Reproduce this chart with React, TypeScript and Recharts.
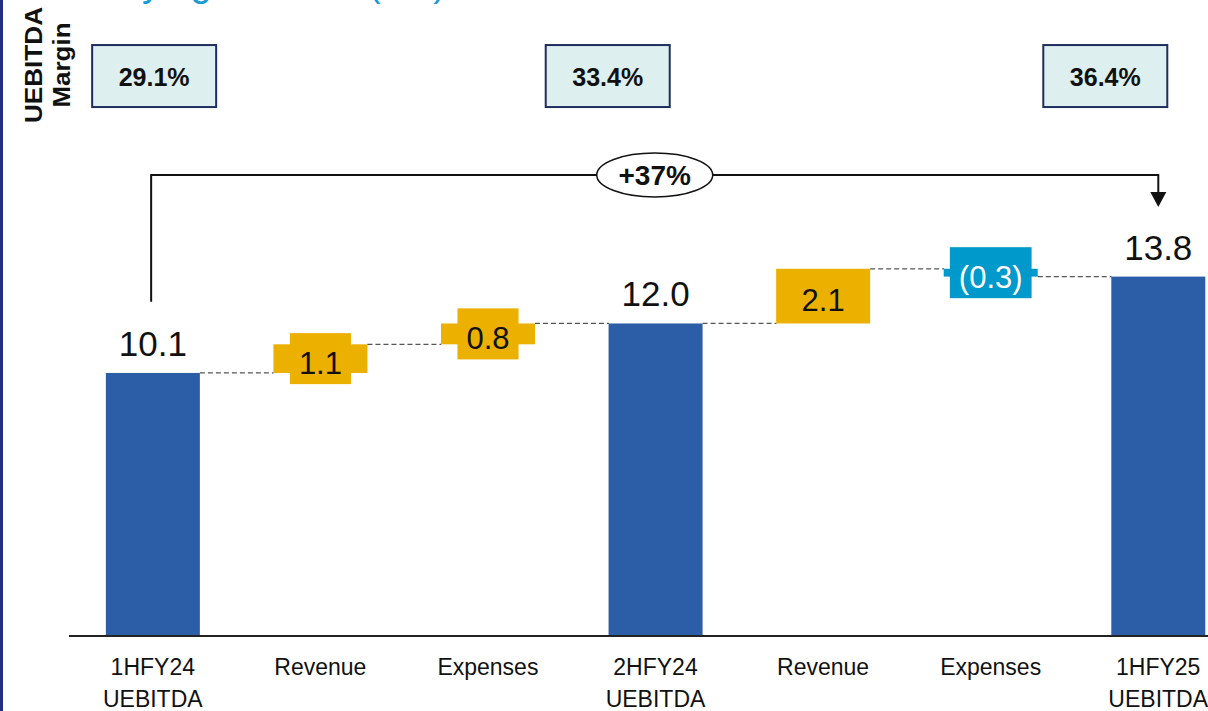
import React from "react";
import { ComposedChart, Bar, XAxis, YAxis } from "recharts";

// waterfall steps, left to right
const categories = [
  "1HFY24\nUEBITDA",
  "Revenue",
  "Expenses",
  "2HFY24\nUEBITDA",
  "Revenue",
  "Expenses",
  "1HFY25\nUEBITDA",
];
const kinds = ["total", "delta", "delta", "total", "delta", "delta", "total"];
const values = [10.1, 1.1, 0.8, 12.0, 2.1, -0.3, 13.8];
const valueLabels = ["10.1", "1.1", "0.8", "12.0", "2.1", "(0.3)", "13.8"];

// margin boxes above the totals
const marginIdx = [0, 3, 6];
const marginLabels = ["29.1%", "33.4%", "36.4%"];
const growthLabel = "+37%";

const FONT = "'Liberation Sans', Arial, Helvetica, sans-serif";
const BLUE = "#2c5ea8";
const GOLD = "#ebb000";
const CYAN = "#0099cb";
const GAP = 0.22;

// build range bars from the running total
let running = 0;
const chartData = categories.map((name, i) => {
  const v = values[i];
  let range: number[];
  let color: string;
  if (kinds[i] === "total") {
    range = [0, v];
    running = v;
    color = BLUE;
  } else {
    range = [Math.min(running, running + v), Math.max(running, running + v)];
    running += v;
    color = v < 0 ? CYAN : GOLD;
  }
  return { name, range, value: v, kind: kinds[i], label: valueLabels[i], color };
});

const charW: Record<string, number> = { ".": 0.278, "(": 0.333, ")": 0.333 };
const textWidth = (s: string, size: number) =>
  s.split("").reduce((a, c) => a + (charW[c] ?? 0.556), 0) * size;

// annotation levels, in chart units
const BRACKET_TOP = 17.7;
const BRACKET_LEFT_FROM = 12.83;
const ARROW_TIP = 16.47;
const MARGIN_LEVEL = 21.5;
const boxShift = [3, -47, -53];

// bracket, growth badge and margin boxes, placed with the bar's own scale
const Annotations = ({ cxOf, yOf }: any) => {
  const x0 = cxOf(0);
  const x6 = cxOf(6);
  const top = yOf(BRACKET_TOP);
  const tip = yOf(ARROW_TIP);
  return (
    <g>
      <path
        d={`M${x0},${yOf(BRACKET_LEFT_FROM)} V${top} H${x6} V${tip - 12}`}
        fill="none"
        stroke="#111"
        strokeWidth={2}
      />
      <path d={`M${x6 - 8},${tip - 15} L${x6 + 8},${tip - 15} L${x6},${tip} Z`} fill="#111" />
      <ellipse cx={cxOf(3)} cy={top} rx={58} ry={22} fill="#fff" stroke="#111" strokeWidth={1.5} />
      <text x={cxOf(3)} y={top + 10} textAnchor="middle" fontSize={28} fontWeight="bold" fontFamily={FONT} fill="#111">
        {growthLabel}
      </text>
      {marginIdx.map((j, i) => {
        const bx = cxOf(j) + boxShift[i];
        const by = yOf(MARGIN_LEVEL);
        return (
          <g key={i}>
            <rect x={bx - 62} y={by - 31} width={124} height={62} fill="#ddefee" stroke="#1f2d5e" strokeWidth={2} />
            <text x={bx} y={by + 10} textAnchor="middle" fontSize={25} fontWeight="bold" fontFamily={FONT} fill="#111">
              {marginLabels[i]}
            </text>
          </g>
        );
      })}
    </g>
  );
};

const WaterfallBar = (props: any) => {
  const { x, y, width, height, payload, index } = props;
  const top = Math.min(y, y + height);
  const h = Math.abs(height);
  const endY = payload.value < 0 ? top + h : top;
  const band = width / (1 - 2 * GAP);
  const link = band - width;
  const cx = x + width / 2;
  const isLast = index === chartData.length - 1;
  let label: React.ReactNode;
  if (payload.kind === "total") {
    label = (
      <text x={cx} y={top - 17} textAnchor="middle" fontSize={35} fontFamily={FONT} fill="#111">
        {payload.label}
      </text>
    );
  } else {
    const tw = textWidth(payload.label, 31) + 18;
    const cy = top + h / 2;
    label = (
      <g>
        <rect x={cx - tw / 2} y={cy - 25.5} width={tw} height={51} fill={payload.color} />
        <text
          x={cx}
          y={cy + 15}
          textAnchor="middle"
          fontSize={31}
          fontFamily={FONT}
          fill={payload.value < 0 ? "#fff" : "#111"}
        >
          {payload.label}
        </text>
      </g>
    );
  }
  let notes: React.ReactNode = null;
  if (isLast) {
    const unit = h / Math.abs(payload.value);
    const base = top + h;
    notes = (
      <Annotations
        cxOf={(j: number) => cx + (j - index) * band}
        yOf={(v: number) => base - v * unit}
      />
    );
  }
  return (
    <g>
      <rect x={x} y={top} width={width} height={h} fill={payload.color} />
      {!isLast && (
        <line
          x1={x + width}
          x2={x + width + link}
          y1={endY}
          y2={endY}
          stroke="#555"
          strokeWidth={1.2}
          strokeDasharray="5 3"
        />
      )}
      {label}
      {notes}
    </g>
  );
};

const CatTick = (props: any) => {
  const { x, y, payload } = props;
  const lines = String(payload.value).split("\n");
  return (
    <text x={x} y={y} textAnchor="middle" fontSize={23} fontFamily={FONT} fill="#111">
      {lines.map((l, i) => (
        <tspan key={i} x={x} dy={i === 0 ? 39 : 32}>
          {l}
        </tspan>
      ))}
    </text>
  );
};

export default function App() {
  return (
    <div
      style={{
        position: "fixed",
        left: 0,
        top: 0,
        width: 1208,
        height: 711,
        overflow: "hidden",
        background: "#fff",
      }}
    >
      <ComposedChart
        width={1242}
        height={716}
        data={chartData}
        margin={{ top: 0, right: 0, left: 69, bottom: 0 }}
        barCategoryGap={`${GAP * 100}%`}
        style={{ position: "absolute", left: 0, top: 0 }}
      >
        <XAxis
          dataKey="name"
          interval={0}
          height={80}
          tickLine={false}
          tickSize={0}
          tickMargin={0}
          axisLine={{ stroke: "#222", strokeWidth: 2 }}
          tick={<CatTick />}
        />
        <YAxis hide domain={[0, 24.42]} allowDataOverflow />
        <Bar dataKey="range" shape={<WaterfallBar />} isAnimationActive={false} />
      </ComposedChart>
      <svg
        width={1208}
        height={711}
        style={{ position: "absolute", left: 0, top: 0, pointerEvents: "none" }}
      >
        <rect x={0} y={0} width={3} height={711} fill="#22307a" />
        <text x={30} y={-4} fontSize={38} fontFamily={FONT} fill="#1a9ad6">
          Underlying EBITDA ($m)
        </text>
        <text
          transform="translate(42,65) rotate(-90)"
          textAnchor="middle"
          fontSize={24}
          fontWeight="bold"
          fontFamily={FONT}
          fill="#111"
          textLength={116}
          lengthAdjust="spacingAndGlyphs"
        >
          UEBITDA
        </text>
        <text
          transform="translate(70,65) rotate(-90)"
          textAnchor="middle"
          fontSize={24}
          fontWeight="bold"
          fontFamily={FONT}
          fill="#111"
          textLength={85}
          lengthAdjust="spacingAndGlyphs"
        >
          Margin
        </text>
      </svg>
    </div>
  );
}
